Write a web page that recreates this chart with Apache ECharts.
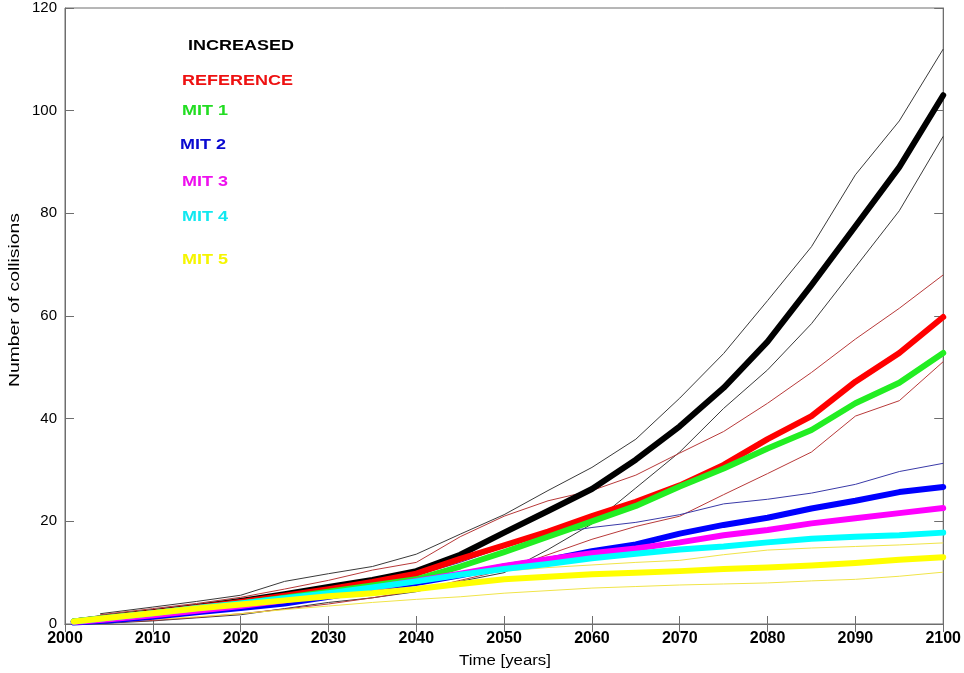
<!DOCTYPE html>
<html>
<head>
<meta charset="utf-8">
<script src="https://cdn.jsdelivr.net/npm/echarts@6/dist/echarts.min.js"></script>
<style>html,body{margin:0;padding:0;background:#fff}#c{width:964px;height:673px}</style>
</head>
<body>
<div id="c"></div>
<script>
// Years for the thick (mean) curves
const years = [2001,2005,2010,2015,2020,2025,2030,2035,2040,2045,2050,2055,2060,2065,2070,2075,2080,2085,2090,2095,2100];
const increased = [0.5,1.3,2.3,3.3,4.5,5.8,7.2,8.6,10.3,13.5,17.8,22,26.3,32,38.5,46,55,66,77.5,89,103];
const reference = [0.5,1.2,2.2,3.2,4.3,5.5,6.8,8.2,9.8,12.7,15.3,18,21,23.8,27,31,36,40.5,47.2,52.8,59.8];
const mit1 = [0.5,1.2,2.1,3.0,4.0,5.1,6.3,7.5,8.7,11.2,14,17,20,23,26.8,30.3,34.2,37.8,43,47,52.8];
const mit2 = [0.3,0.7,1.4,2.3,3.1,4.0,5.3,6.6,8.0,9.5,11.2,12.5,14.2,15.5,17.6,19.3,20.7,22.5,24.0,25.7,26.7];
const mit3 = [0.4,0.9,1.7,2.6,3.5,4.6,5.8,7.0,8.4,9.8,11.3,12.6,13.8,14.7,15.9,17.3,18.3,19.6,20.6,21.6,22.6];
const mit4 = [0.5,1.2,2.1,3.1,4.0,5.0,6.0,7.1,8.3,9.6,10.7,11.7,12.8,13.7,14.5,15.1,15.9,16.6,17.0,17.3,17.8];
const mit5 = [0.5,1.2,2.1,3.0,3.8,4.6,5.4,6.0,6.8,7.8,8.7,9.2,9.7,10.0,10.3,10.7,11.0,11.4,11.9,12.5,13.0];

// Years for the thin (bound) curves
const boundYears = [2004,2010,2015,2020,2025,2030,2035,2040,2045,2050,2055,2060,2065,2070,2075,2080,2085,2090,2095,2100];
const increasedUpper = [2.0,3.3,4.4,5.6,8.3,9.8,11.2,13.6,17.5,21.3,26,30.5,36,44,52.7,63,73.5,87.5,98,112];
const increasedLower = [0.1,0.6,1.2,1.8,3.0,4.2,5.1,6.3,8.3,10,14.5,19.5,26.5,33.5,42,49.5,58.5,69.5,80.5,95];
const referenceUpper = [1.8,3.0,4.0,5.2,6.8,8.5,10.5,12.0,17,21,24,26,29,33.3,37.5,43,49,55.5,61.5,68];
const referenceLower = [0.2,0.7,1.3,2.0,2.9,3.9,5.1,6.5,8.5,10.5,13.5,16.5,19,21,25.2,29.3,33.5,40.5,43.5,51.1];
const mit2Upper = [1.2,2.3,3.4,4.5,5.6,6.8,8.1,9.5,12,15,17.5,18.8,19.8,21.3,23.4,24.3,25.5,27.2,29.7,31.3];
const mit5Upper = [1.5,2.7,3.6,4.6,5.5,6.5,7.4,8.3,9.3,10.3,11.0,11.5,12.0,12.4,13.5,14.4,14.8,15.1,15.4,15.8];
const mit5Lower = [0.2,0.9,1.4,2.0,2.8,3.5,4.2,4.8,5.3,6.0,6.5,7.0,7.3,7.6,7.8,8.0,8.4,8.7,9.3,10.1];

const labels = ['INCREASED','REFERENCE','MIT 1','MIT 2','MIT 3','MIT 4','MIT 5'];
const xTitle = 'Time [years]';
const yTitle = 'Number of collisions';

function pairs(xs, ys){ return xs.map((x,i)=>[x, ys[i]]); }

function thin(name, xs, ys, color){
  return {name, type:'line', data:pairs(xs,ys), symbol:'none', silent:true,
    lineStyle:{color, width:1}, z:2, animation:false};
}
function thick(name, ys, color){
  return {name, type:'line', data:pairs(years,ys), symbol:'none', silent:true,
    lineStyle:{color, width:6, cap:'round', join:'round'}, z:3, animation:false};
}

const chart = echarts.init(document.getElementById('c'), null, {renderer:'canvas'});
const axisGray = '#6e6e6e';
const legendText = [
  {t:labels[0], x:188, y:46, c:'#000000'},
  {t:labels[1], x:182, y:81, c:'#ee1111'},
  {t:labels[2], x:182, y:111, c:'#22dd22'},
  {t:labels[3], x:180, y:145, c:'#0a0ad0'},
  {t:labels[4], x:182, y:182, c:'#ee11ee'},
  {t:labels[5], x:182, y:217, c:'#11e8f0'},
  {t:labels[6], x:182, y:260, c:'#f5f500'}
];

const graphics = legendText.map(o=>({
  type:'text', x:o.x, y:o.y, scaleX:1.2, silent:true,
  style:{text:o.t, fill:o.c, x:0, y:0, align:'left', verticalAlign:'middle',
    font:'bold 15px "Liberation Sans", Arial, sans-serif'}
}));
graphics.push({
  type:'text', x:505, y:661, scaleX:1.2, silent:true,
  style:{text:xTitle, fill:'#000', x:0, y:0, align:'center', verticalAlign:'middle',
    font:'14px "Liberation Sans", Arial, sans-serif'}
});
graphics.push({
  type:'text', x:15, y:300, rotation:Math.PI/2, scaleX:1.38, silent:true,
  style:{text:yTitle, fill:'#000', x:0, y:0, align:'center', verticalAlign:'middle',
    font:'14px "Liberation Sans", Arial, sans-serif'}
});

chart.setOption({
  backgroundColor:'#ffffff',
  animation:false,
  grid:{left:65, right:19, top:8, bottom:49, show:true, borderColor:axisGray, borderWidth:1},
  xAxis:[{
    type:'value', min:2000, max:2100, interval:10, position:'bottom',
    axisLine:{show:true, lineStyle:{color:axisGray, width:1}},
    axisTick:{show:true, inside:true, length:8, lineStyle:{color:axisGray}},
    axisLabel:{fontFamily:'Liberation Sans', fontWeight:'bold', fontSize:16, color:'#000', margin:7,
      formatter:v=>String(v)},
    splitLine:{show:false}
  },{
    type:'value', min:2000, max:2100, interval:10, position:'top',
    axisLine:{show:true, lineStyle:{color:axisGray, width:1}},
    axisTick:{show:true, inside:true, length:8, lineStyle:{color:axisGray}},
    axisLabel:{show:false}, splitLine:{show:false}
  }],
  yAxis:[{
    type:'value', min:0, max:120, interval:20, position:'left',
    axisLine:{show:true, lineStyle:{color:axisGray, width:1}},
    axisTick:{show:true, inside:true, length:9, lineStyle:{color:axisGray}},
    axisLabel:{fontFamily:'Liberation Sans', fontSize:15, color:'#000', margin:8,
      formatter:v=>String(v)},
    splitLine:{show:false}
  },{
    type:'value', min:0, max:120, interval:20, position:'right',
    axisLine:{show:true, lineStyle:{color:axisGray, width:1}},
    axisTick:{show:true, inside:true, length:9, lineStyle:{color:axisGray}},
    axisLabel:{show:false}, splitLine:{show:false}
  }],
  series:[
    thin('INCREASED upper', boundYears, increasedUpper, '#3a3a3a'),
    thin('INCREASED lower', boundYears, increasedLower, '#3a3a3a'),
    thin('REFERENCE upper', boundYears, referenceUpper, '#b83a3a'),
    thin('REFERENCE lower', boundYears, referenceLower, '#b83a3a'),
    thin('MIT 2 upper', boundYears, mit2Upper, '#3a3aa8'),
    thin('MIT 5 upper', boundYears, mit5Upper, '#f0e448'),
    thin('MIT 5 lower', boundYears, mit5Lower, '#f0e448'),
    thick(labels[0], increased, '#000000'),
    thick(labels[1], reference, '#ff0000'),
    thick(labels[2], mit1, '#22ee22'),
    thick(labels[3], mit2, '#0000ff'),
    thick(labels[4], mit3, '#ff00ff'),
    thick(labels[5], mit4, '#00ffff'),
    thick(labels[6], mit5, '#ffff00')
  ],
  graphic: graphics
});
</script>
</body>
</html>
